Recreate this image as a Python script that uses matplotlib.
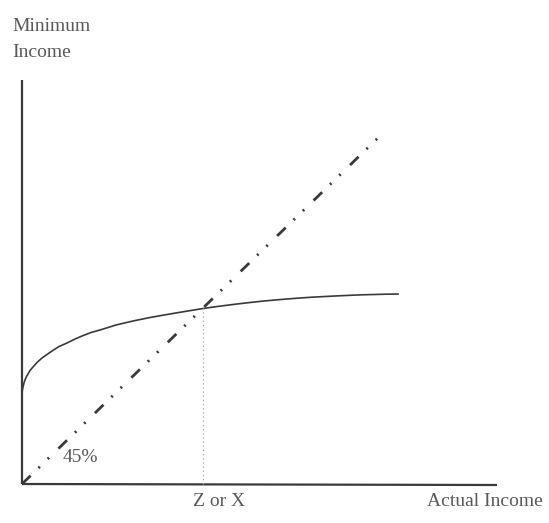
import matplotlib
matplotlib.use("Agg")
from matplotlib import pyplot as plt

plt.rcParams['lines.scale_dashes'] = False

# minimum income curve (origin at the axes corner)
curve_x = [0, 0.5, 1, 2, 3, 4.5, 6, 8, 11, 15, 20, 25, 30, 37, 45, 52, 60, 69,
           78, 94, 111, 128, 145, 161, 178, 190, 203, 215, 228, 240, 253, 265,
           278, 290, 303, 315, 328, 340, 352, 364, 376]
curve_y = [91, 94.5, 97, 101, 104, 107.5, 110, 113.5, 117, 121.5, 126, 129.5,
           133, 137.5, 141, 144.5, 148, 151.5, 154, 159, 163, 166.5, 169.5,
           172.2, 175, 176.8, 178.5, 180, 181.5, 182.8, 184, 185, 186, 186.8,
           187.5, 188.1, 188.7, 189.2, 189.5, 189.8, 190]

# 45 degree line
diag_x = [0, 361]
diag_y = [0, 351]

# Z or X point
z_x = 181
z_y = 176

x_axis_end = 475
y_axis_top = 404

fig = plt.figure(figsize=(5.49, 5.23), dpi=100)
ax = fig.add_axes([0, 0, 1, 1])
ax.set_xlim(-22, 527)
ax.set_ylim(-39, 484)
ax.axis('off')

ink = '#3a3a3a'
txt = '#5a5a5a'

# axes
ax.plot([0, 0], [0, y_axis_top], color=ink, lw=1.6, solid_capstyle='butt')
ax.plot([0, x_axis_end], [0, -1], color=ink, lw=1.6, solid_capstyle='butt')

# curve
ax.plot(curve_x, curve_y, color=ink, lw=1.2)

# dash-dot-dot line
ax.plot(diag_x, diag_y, color=ink, lw=2.0, dash_capstyle='butt',
        dashes=(8.6, 7.9, 1.4, 7.9, 1.4, 9.4))

# dotted drop line
ax.plot([z_x, z_x], [0, z_y], color='#aaaaaa', lw=0.8, linestyle=(0, (1, 2)))

font = dict(family='Liberation Serif', color=txt, fontsize=14)
ax.text(-10, 453, 'Minimum', va='baseline', ha='left', **font)
ax.text(-10, 427, 'Income', va='baseline', ha='left', **font)
ax.text(41, 22, '45%', va='baseline', ha='left', **font)
ax.text(171, -22, 'Z or X', va='baseline', ha='left', **font)
ax.text(405, -22, 'Actual Income', va='baseline', ha='left', **font)

plt.savefig('out.png', dpi=100)
